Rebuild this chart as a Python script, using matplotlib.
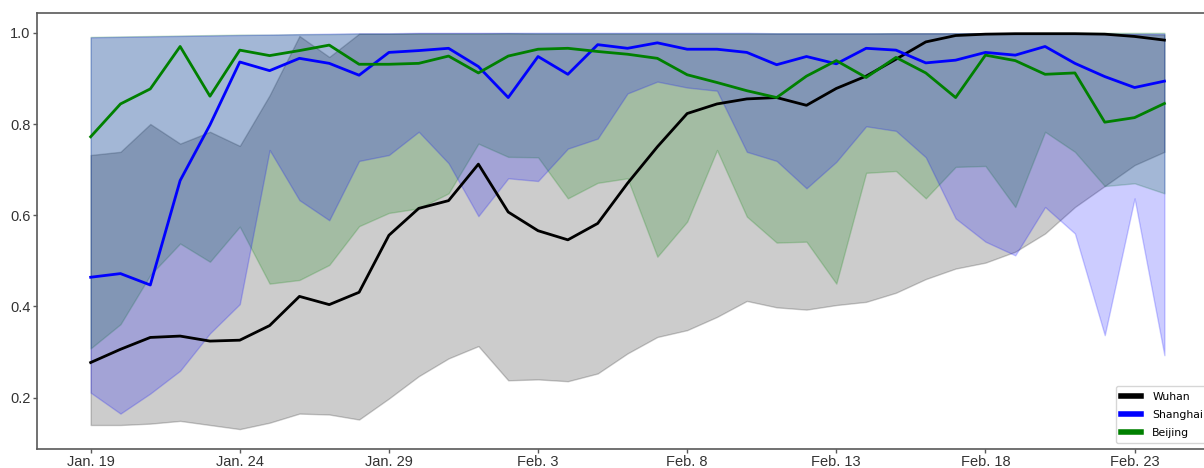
import numpy as np
import pandas as pd
import matplotlib
matplotlib.use('Agg')
import matplotlib.pyplot as plt
from matplotlib.lines import Line2D

# daily values, Jan 19 .. Feb 24
dates = pd.date_range('2020-01-19', '2020-02-24', freq='D')

wuhan = [0.277, 0.306, 0.332, 0.335, 0.324, 0.326, 0.358, 0.422, 0.404, 0.431,
         0.556, 0.615, 0.632, 0.712, 0.607, 0.566, 0.546, 0.582, 0.670, 0.750,
         0.823, 0.844, 0.855, 0.858, 0.841, 0.878, 0.905, 0.942, 0.980, 0.994,
         0.997, 0.998, 0.998, 0.998, 0.997, 0.992, 0.984]
wuhan_lo = [0.140, 0.140, 0.143, 0.149, 0.140, 0.131, 0.145, 0.165, 0.163, 0.152,
            0.198, 0.247, 0.286, 0.313, 0.238, 0.240, 0.236, 0.253, 0.297, 0.333,
            0.348, 0.377, 0.412, 0.398, 0.393, 0.403, 0.410, 0.430, 0.460, 0.483,
            0.496, 0.520, 0.560, 0.618, 0.664, 0.710, 0.739]
wuhan_hi = [0.732, 0.739, 0.800, 0.757, 0.783, 0.752, 0.863, 0.993, 0.947, 0.998,
            0.998, 0.999, 0.999, 0.999, 0.999, 0.998, 0.998, 0.998, 0.998, 0.998,
            0.998, 0.998, 0.998, 0.998, 0.998, 0.998, 0.998, 0.999, 0.999, 0.999,
            0.999, 0.999, 0.999, 0.999, 0.998, 0.997, 0.996]

shanghai = [0.464, 0.472, 0.447, 0.676, 0.798, 0.936, 0.917, 0.944, 0.933, 0.907,
            0.957, 0.961, 0.966, 0.926, 0.858, 0.948, 0.909, 0.974, 0.966, 0.978,
            0.964, 0.964, 0.957, 0.930, 0.948, 0.932, 0.966, 0.962, 0.934, 0.940,
            0.957, 0.951, 0.970, 0.933, 0.904, 0.880, 0.894]
shanghai_lo = [0.211, 0.165, 0.209, 0.259, 0.341, 0.405, 0.743, 0.633, 0.589, 0.719,
               0.732, 0.783, 0.714, 0.598, 0.681, 0.675, 0.746, 0.768, 0.867, 0.893,
               0.880, 0.873, 0.739, 0.719, 0.659, 0.717, 0.795, 0.785, 0.727, 0.593,
               0.542, 0.512, 0.618, 0.560, 0.337, 0.637, 0.293]
shanghai_hi = [0.990, 0.991, 0.992, 0.993, 0.994, 0.995, 0.996, 0.997, 0.998, 0.999,
               0.999, 1.000, 1.000, 1.000, 1.000, 1.000, 1.000, 1.000, 1.000, 1.000,
               1.000, 1.000, 1.000, 0.999, 0.999, 0.999, 0.999, 0.999, 0.999, 0.999,
               0.999, 0.999, 0.999, 0.999, 0.998, 0.998, 0.998]

beijing = [0.772, 0.844, 0.877, 0.970, 0.861, 0.962, 0.950, 0.961, 0.973, 0.931,
           0.931, 0.933, 0.949, 0.912, 0.949, 0.964, 0.966, 0.959, 0.953, 0.944,
           0.908, 0.891, 0.873, 0.858, 0.905, 0.939, 0.902, 0.946, 0.912, 0.858,
           0.951, 0.939, 0.909, 0.912, 0.804, 0.814, 0.845]
beijing_lo = [0.308, 0.361, 0.469, 0.538, 0.498, 0.575, 0.450, 0.458, 0.491, 0.576,
              0.605, 0.615, 0.648, 0.757, 0.728, 0.727, 0.637, 0.671, 0.681, 0.509,
              0.586, 0.743, 0.597, 0.540, 0.542, 0.450, 0.693, 0.697, 0.637, 0.706,
              0.708, 0.618, 0.783, 0.739, 0.664, 0.670, 0.648]
beijing_hi = [0.991, 0.992, 0.993, 0.994, 0.995, 0.996, 0.996, 0.997, 0.997, 0.998,
              0.998, 0.998, 0.998, 0.998, 0.999, 0.999, 0.999, 0.999, 0.999, 0.999,
              0.999, 0.999, 0.999, 0.999, 0.999, 0.999, 0.999, 0.999, 0.999, 0.999,
              0.999, 0.999, 1.000, 1.000, 1.000, 1.000, 1.000]

x = np.arange(len(dates))
tick_idx = x[::5]
tick_labels = [f'{d:%b}. {d.day}' for d in dates[::5]]

fig = plt.figure(figsize=(12.04, 4.68), dpi=100)
# the original figure was cut on the right, so the axes runs past the edge
ax = fig.add_axes([0.0307, 0.0412, 0.981, 0.9316])

# bands
ax.fill_between(x, wuhan_lo, wuhan_hi, color='k', alpha=0.2)
ax.fill_between(x, beijing_lo, beijing_hi, color='g', alpha=0.2)
ax.fill_between(x, shanghai_lo, shanghai_hi, color='b', alpha=0.2)

# means
ax.plot(x, wuhan, color='k', lw=2)
ax.plot(x, shanghai, color='b', lw=2)
ax.plot(x, beijing, color='g', lw=2)

ax.set_xlim(-1.8, 37.8)
ax.set_ylim(0.088, 1.044)
ax.set_xticks(tick_idx)
ax.set_xticklabels(tick_labels)
ax.set_yticks([0.2, 0.4, 0.6, 0.8, 1.0])
ax.set_yticklabels(['0.2', '0.4', '0.6', '0.8', '1.0'])

for s in ax.spines.values():
    s.set_color('0.35')
    s.set_linewidth(1.2)
ax.tick_params(direction='out', length=3, width=1, color='0.35', pad=1.5,
               labelcolor='0.2', labelsize=10.5)
for lab in ax.get_xticklabels() + ax.get_yticklabels():
    lab.set_family('Liberation Sans')

handles = [Line2D([0], [0], color=c, lw=4) for c in ['k', 'b', 'g']]
ax.legend(handles, ['Wuhan', 'Shanghai', 'Beijing'], loc='lower left',
          bbox_to_anchor=(1116 / 1204, 24.7 / 468), bbox_transform=fig.transFigure,
          borderaxespad=0, fontsize=7.8, handlelength=1.85, handletextpad=1.0,
          labelspacing=0.75, borderpad=0.5)

fig.savefig('out.png', dpi=100)
